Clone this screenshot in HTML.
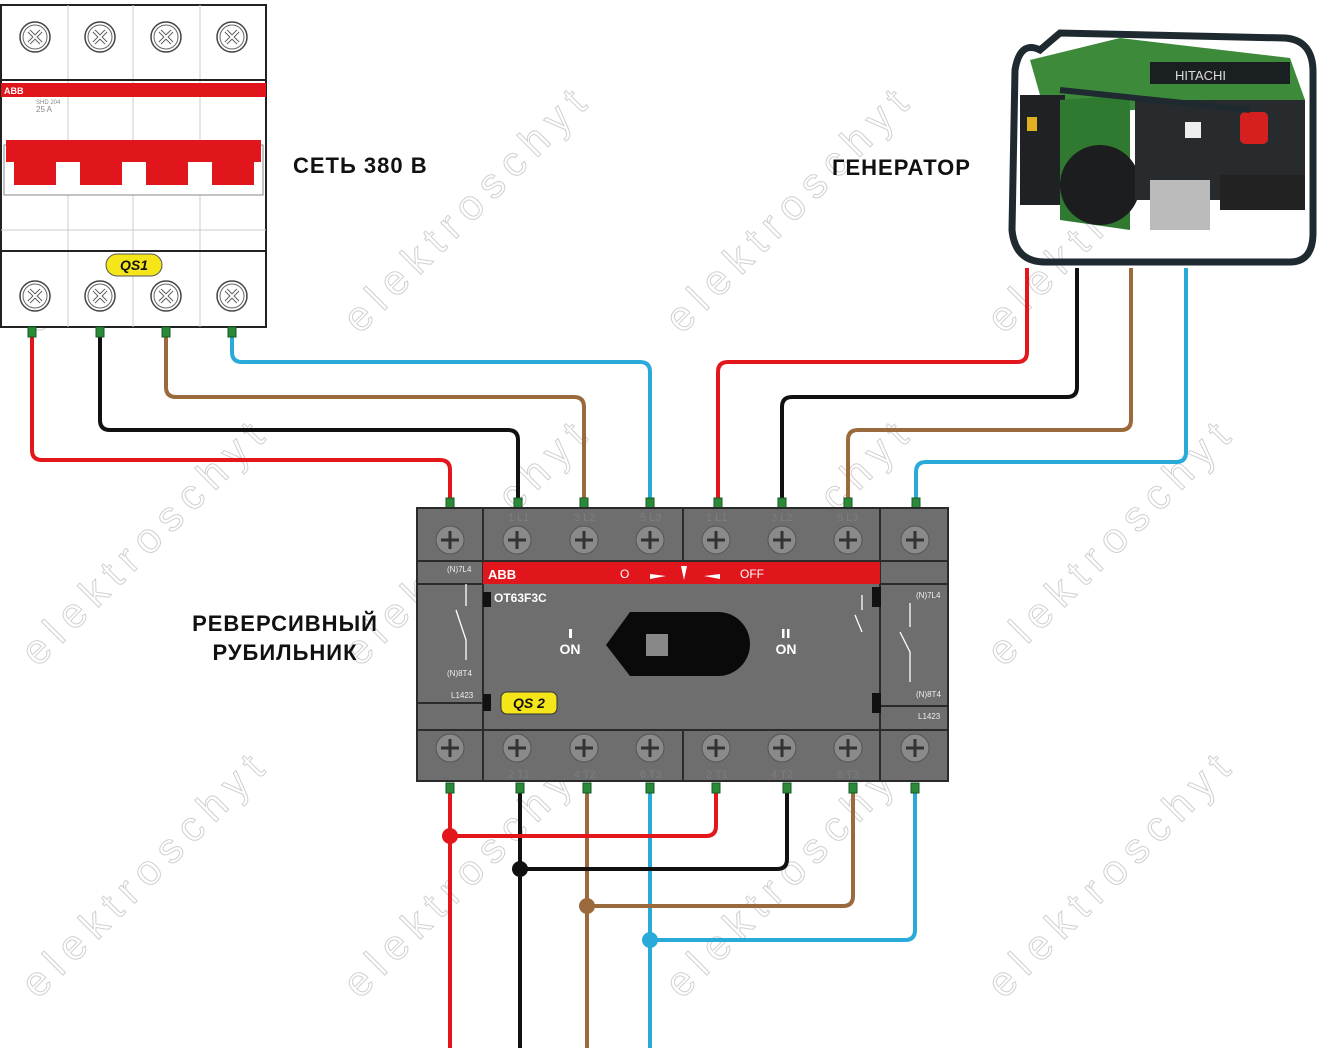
<!DOCTYPE html>
<html><head><meta charset="utf-8"><style>
html,body{margin:0;padding:0;background:#fff}
svg{display:block}
text{font-family:"Liberation Sans",sans-serif}
</style></head><body>
<svg width="1320" height="1048" viewBox="0 0 1320 1048" xmlns="http://www.w3.org/2000/svg">
<defs>
<g id="xs"><circle r="15" fill="#fff" stroke="#444" stroke-width="1.5"/><circle r="12" fill="#fff" stroke="#666" stroke-width="1"/><path d="M-6,-6 L6,6 M6,-6 L-6,6" stroke="#555" stroke-width="4"/><path d="M-6,-6 L6,6 M6,-6 L-6,6" stroke="#fff" stroke-width="2"/></g>
<g id="ps"><circle r="14" fill="#8a8a8a" stroke="#555" stroke-width="1"/><path d="M-9,0 H9 M0,-9 V9" stroke="#333" stroke-width="3"/></g>
<g id="tm"><rect x="-4" y="-5" width="8" height="10" fill="#2a8a3a" stroke="#155a20" stroke-width="1"/></g>
</defs>

<g fill="none" stroke="#d0d0d0" stroke-width="1" font-size="42" letter-spacing="9">
<text transform="translate(38,335) rotate(-45)">elektroschyt</text>
<text transform="translate(360,335) rotate(-45)">elektroschyt</text>
<text transform="translate(682,335) rotate(-45)">elektroschyt</text>
<text transform="translate(1004,335) rotate(-45)">elektroschyt</text>
<text transform="translate(38,668) rotate(-45)">elektroschyt</text>
<text transform="translate(360,668) rotate(-45)">elektroschyt</text>
<text transform="translate(682,668) rotate(-45)">elektroschyt</text>
<text transform="translate(1004,668) rotate(-45)">elektroschyt</text>
<text transform="translate(38,1000) rotate(-45)">elektroschyt</text>
<text transform="translate(360,1000) rotate(-45)">elektroschyt</text>
<text transform="translate(682,1000) rotate(-45)">elektroschyt</text>
<text transform="translate(1004,1000) rotate(-45)">elektroschyt</text>
</g>

<rect x="1" y="5" width="265" height="322" fill="#fff" stroke="#222" stroke-width="2"/>
<g stroke="#ccc" stroke-width="1"><line x1="68" y1="5" x2="68" y2="327"/><line x1="133" y1="5" x2="133" y2="327"/><line x1="200" y1="5" x2="200" y2="327"/><line x1="1" y1="230" x2="266" y2="230"/></g>
<line x1="1" y1="80" x2="266" y2="80" stroke="#222" stroke-width="2"/>
<line x1="1" y1="251" x2="266" y2="251" stroke="#222" stroke-width="2"/>
<rect x="1" y="83" width="265" height="14" fill="#e0161c"/>
<text x="4" y="94" font-size="9" fill="#fff" font-weight="bold">ABB</text>
<text x="36" y="104" font-size="6" fill="#888">SHD 204</text>
<text x="36" y="112" font-size="8" fill="#888">25 A</text>
<rect x="4" y="145" width="259" height="50" fill="#fff" stroke="#888"/>
<rect x="6" y="140" width="255" height="22" fill="#e0161c"/>
<g fill="#e0161c"><rect x="14" y="160" width="42" height="25"/><rect x="80" y="160" width="42" height="25"/><rect x="146" y="160" width="42" height="25"/><rect x="212" y="160" width="42" height="25"/></g>
<use href="#xs" x="35" y="37"/><use href="#xs" x="100" y="37"/><use href="#xs" x="166" y="37"/><use href="#xs" x="232" y="37"/>
<use href="#xs" x="35" y="296"/><use href="#xs" x="100" y="296"/><use href="#xs" x="166" y="296"/><use href="#xs" x="232" y="296"/>
<rect x="106" y="254" width="56" height="22" rx="11" fill="#f5e61a" stroke="#555"/>
<text x="134" y="270" font-size="14" font-weight="bold" font-style="italic" text-anchor="middle" fill="#111">QS1</text>

<path d="M1030,60 L1120,38 L1290,58 L1305,100 L1100,112 L1040,95 Z" fill="#3d8a3a"/>
<rect x="1150" y="62" width="140" height="22" fill="#1a1f22"/>
<text x="1175" y="80" font-size="13" fill="#ddd">HITACHI</text>
<rect x="1020" y="95" width="45" height="110" fill="#1e2224"/>
<rect x="1027" y="117" width="10" height="14" fill="#e2b020"/>
<path d="M1060,100 L1130,95 L1130,230 L1060,220 Z" fill="#2f7a30"/>
<circle cx="1100" cy="185" r="40" fill="#1b1d1e"/>
<rect x="1135" y="100" width="170" height="100" fill="#272b2e"/>
<rect x="1240" y="112" width="28" height="32" rx="5" fill="#d62020"/>
<rect x="1185" y="122" width="16" height="16" fill="#eee"/>
<rect x="1150" y="180" width="60" height="50" fill="#bbb"/>
<rect x="1220" y="175" width="85" height="35" fill="#222"/>
<path d="M1040,50 Q1020,40 1015,70 L1012,230 Q1015,262 1045,262 L1290,262 Q1312,262 1313,235 L1313,70 Q1312,40 1285,38 L1060,33 Z" fill="none" stroke="#1e2a30" stroke-width="7"/>
<line x1="1060" y1="90" x2="1250" y2="110" stroke="#1e2a30" stroke-width="6"/>

<g font-size="22" font-weight="bold" fill="#111" letter-spacing="1">
<text x="293" y="173">СЕТЬ 380 В</text>
<text x="832" y="175">ГЕНЕРАТОР</text>
<text x="285" y="631" text-anchor="middle">РЕВЕРСИВНЫЙ</text>
<text x="285" y="660" text-anchor="middle">РУБИЛЬНИК</text>
</g>

<g fill="none" stroke-width="4" stroke-linejoin="round">
<path d="M32,332 V450 Q32,460 42,460 H440 Q450,460 450,470 V500" stroke="#e3161b"/>
<path d="M100,332 V420 Q100,430 110,430 H508 Q518,430 518,440 V500" stroke="#111"/>
<path d="M166,332 V387 Q166,397 176,397 H574 Q584,397 584,407 V500" stroke="#9a6a3c"/>
<path d="M232,332 V352 Q232,362 242,362 H640 Q650,362 650,372 V500" stroke="#2aaad8"/>
<path d="M1027,268 V352 Q1027,362 1017,362 H728 Q718,362 718,372 V500" stroke="#e3161b"/>
<path d="M1077,268 V387 Q1077,397 1067,397 H792 Q782,397 782,407 V500" stroke="#111"/>
<path d="M1131,268 V420 Q1131,430 1121,430 H858 Q848,430 848,440 V500" stroke="#9a6a3c"/>
<path d="M1186,268 V452 Q1186,462 1176,462 H926 Q916,462 916,472 V500" stroke="#2aaad8"/>
<path d="M450,785 V1048" stroke="#e3161b"/>
<path d="M520,785 V1048" stroke="#111"/>
<path d="M587,785 V1048" stroke="#9a6a3c"/>
<path d="M650,785 V1048" stroke="#2aaad8"/>
<path d="M716,785 V826 Q716,836 706,836 H450" stroke="#e3161b"/>
<path d="M787,785 V859 Q787,869 777,869 H520" stroke="#111"/>
<path d="M853,785 V896 Q853,906 843,906 H587" stroke="#9a6a3c"/>
<path d="M915,785 V930 Q915,940 905,940 H650" stroke="#2aaad8"/>
</g>
<circle cx="450" cy="836" r="8" fill="#e3161b"/>
<circle cx="520" cy="869" r="8" fill="#111"/>
<circle cx="587" cy="906" r="8" fill="#9a6a3c"/>
<circle cx="650" cy="940" r="8" fill="#2aaad8"/>

<use href="#tm" x="32" y="332"/><use href="#tm" x="100" y="332"/><use href="#tm" x="166" y="332"/><use href="#tm" x="232" y="332"/>
<use href="#tm" x="450" y="503"/><use href="#tm" x="518" y="503"/><use href="#tm" x="584" y="503"/><use href="#tm" x="650" y="503"/>
<use href="#tm" x="718" y="503"/><use href="#tm" x="782" y="503"/><use href="#tm" x="848" y="503"/><use href="#tm" x="916" y="503"/>
<use href="#tm" x="450" y="788"/><use href="#tm" x="520" y="788"/><use href="#tm" x="587" y="788"/><use href="#tm" x="650" y="788"/>
<use href="#tm" x="716" y="788"/><use href="#tm" x="787" y="788"/><use href="#tm" x="853" y="788"/><use href="#tm" x="915" y="788"/>

<rect x="417" y="508" width="531" height="273" fill="#6e6e6e" stroke="#2a2a2a" stroke-width="2"/>
<g stroke="#2a2a2a" stroke-width="2" fill="none">
<line x1="417" y1="561" x2="948" y2="561"/><line x1="417" y1="730" x2="948" y2="730"/>
<line x1="483" y1="508" x2="483" y2="781"/><line x1="880" y1="508" x2="880" y2="781"/>
<line x1="683" y1="508" x2="683" y2="561"/><line x1="683" y1="730" x2="683" y2="781"/>
<line x1="417" y1="584" x2="483" y2="584"/><line x1="417" y1="703" x2="483" y2="703"/>
<line x1="880" y1="584" x2="948" y2="584"/><line x1="880" y1="706" x2="948" y2="706"/>
</g>
<rect x="483" y="562" width="397" height="22" fill="#e0161c"/>
<text x="488" y="579" font-size="13" font-weight="bold" fill="#fff">ABB</text>
<text x="620" y="578" font-size="12" fill="#fff">O</text>
<path d="M650,574 L666,576 L650,579Z M681,566 L687,566 L684,580Z M720,574 L704,576 L720,579Z" fill="#fff"/>
<text x="740" y="578" font-size="12" fill="#fff">OFF</text>
<text x="494" y="602" font-size="12" font-weight="bold" fill="#fff">OT63F3C</text>
<path d="M630,612 H718 A32,32 0 0 1 718,676 H630 L606,645 Z" fill="#0a0a0a"/>
<rect x="646" y="634" width="22" height="22" fill="#888"/>
<g fill="#fff" font-weight="bold" font-size="14" text-anchor="middle">
<rect x="569" y="629" width="3" height="9"/><text x="570" y="654">ON</text>
<rect x="782" y="629" width="2.5" height="9"/><rect x="787" y="629" width="2.5" height="9"/><text x="786" y="654">ON</text>
</g>
<rect x="483" y="592" width="8" height="15" fill="#111"/><rect x="483" y="694" width="8" height="17" fill="#111"/>
<rect x="872" y="587" width="9" height="20" fill="#111"/><rect x="872" y="693" width="9" height="20" fill="#111"/>
<rect x="501" y="692" width="56" height="22" rx="6" fill="#f5e61a" stroke="#333"/>
<text x="529" y="708" font-size="14" font-weight="bold" font-style="italic" text-anchor="middle" fill="#111">QS 2</text>
<g font-size="8" fill="#eee">
<text x="447" y="572">(N)7L4</text><text x="447" y="676">(N)8T4</text><text x="451" y="698">L1423</text>
<text x="916" y="598">(N)7L4</text><text x="916" y="697">(N)8T4</text><text x="918" y="719">L1423</text>
</g>
<g stroke="#fff" stroke-width="1.3" fill="none"><path d="M466,584 V606 M456,610 L466,640 V660"/><path d="M910,603 V627 M900,632 L910,652 V682"/><path d="M862,595 V610 M855,615 L862,632"/></g>
<g font-size="11" fill="#7d7d7d">
<text x="508" y="521">1 L1</text><text x="574" y="521">3 L2</text><text x="640" y="521">5 L3</text>
<text x="706" y="521">1 L1</text><text x="771" y="521">3 L2</text><text x="837" y="521">5 L3</text>
<text x="508" y="778">2 T1</text><text x="574" y="778">4 T2</text><text x="640" y="778">6 T3</text>
<text x="706" y="778">2 T1</text><text x="771" y="778">4 T2</text><text x="837" y="778">6 T3</text>
</g>
<use href="#ps" x="450" y="540"/><use href="#ps" x="517" y="540"/><use href="#ps" x="584" y="540"/><use href="#ps" x="650" y="540"/>
<use href="#ps" x="716" y="540"/><use href="#ps" x="782" y="540"/><use href="#ps" x="848" y="540"/><use href="#ps" x="915" y="540"/>
<use href="#ps" x="450" y="748"/><use href="#ps" x="517" y="748"/><use href="#ps" x="584" y="748"/><use href="#ps" x="650" y="748"/>
<use href="#ps" x="716" y="748"/><use href="#ps" x="782" y="748"/><use href="#ps" x="848" y="748"/><use href="#ps" x="915" y="748"/>
</svg>
</body></html>
